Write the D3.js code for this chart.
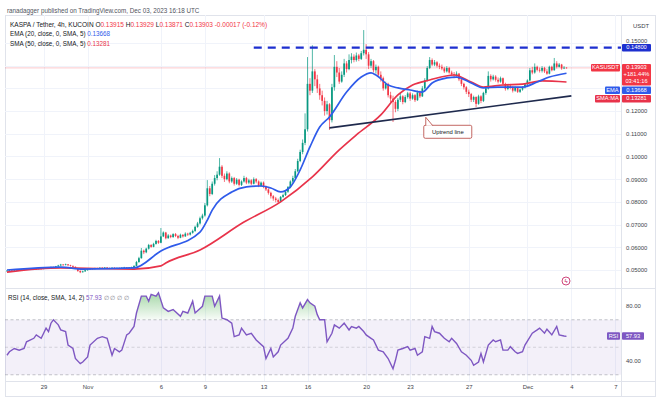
<!DOCTYPE html>
<html>
<head>
<meta charset="utf-8">
<script src="https://cdn.jsdelivr.net/npm/d3@7"></script>
<style>
  body { margin: 0; background: #fff; }
  svg { font-family: "Liberation Sans", Arial, sans-serif; }
</style>
</head>
<body>
<svg id="chart" width="660" height="399"></svg>
<script>
// KASPA / Tether 4h bars, first bar Oct 26 2023 12:00 UTC
const startBar = Date.UTC(2023, 9, 26, 12)
const barMs = 4 * 3600 * 1000
const firstOpen = 0.0495

const closes = [
  .0497,.0499,.0496,
  .0498,.0501,.0500,.0502,.0501,.0503,
  .0504,.0503,.0505,.0504,.0506,.0505,
  .0507,.0510,.0509,.0513,.0512,.0516,
  .0520,.0524,.0522,.0525,.0521,.0518,
  .0514,.0508,.0496,.0490,.0494,.0499,
  .0503,.0506,.0504,.0508,.0507,.0510,
  .0508,.0511,.0509,.0507,.0510,.0508,
  .0509,.0507,.0510,.0512,.0509,.0511,
  .0513,.0518,.0535,.0552,.0585,.0578,
  .0594,.0610,.0602,.0615,.0628,.0620,
  .0648,.0665,.0640,.0652,.0645,.0658,
  .0650,.0642,.0655,.0648,.0660,.0656,
  .0664,.0672,.0690,.0705,.0728,.0740,
  .0785,.0860,.0835,.0880,.0905,.0920,
  .0955,.0915,.0900,.0925,.0890,.0905,
  .0880,.0898,.0875,.0890,.0905,.0885,
  .0895,.0880,.0900,.0890,.0870,.0885,
  .0868,.0855,.0840,.0825,.0815,.0808,
  .0800,.0822,.0830,.0845,.0865,.0890,
  .0905,.0935,.0980,.1020,.1060,.1120,
  .1320,.1290,.1375,.1340,.1300,.1270,
  .1245,.1200,.1230,.1160,.1305,.1395,
  .1370,.1330,.1360,.1410,.1385,.1425,
  .1440,.1425,.1445,.1430,.1455,.1470,
  .1450,.1400,.1420,.1380,.1395,.1360,
  .1345,.1300,.1320,.1270,.1255,.1240,
  .1210,.1250,.1265,.1240,.1262,.1278,
  .1255,.1270,.1248,.1282,.1265,.1300,
  .1335,.1390,.1425,.1405,.1415,.1400,
  .1395,.1388,.1375,.1390,.1370,.1362,
  .1358,.1365,.1340,.1320,.1305,.1285,
  .1275,.1250,.1262,.1232,.1265,.1245,
  .1280,.1300,.1355,.1340,.1352,.1338,
  .1330,.1345,.1320,.1298,.1312,.1305,
  .1290,.1302,.1285,.1295,.1305,.1318,
  .1335,.1380,.1370,.1395,.1382,.1378,
  .1390,.1375,.1365,.1395,.1380,.1410,
  .1395,.1405,.1388,.13915,.13903
]
const highs = [
  .0499,.0501,.0500,
  .0500,.0503,.0503,.0504,.0504,.0505,
  .0506,.0506,.0507,.0507,.0508,.0508,
  .0509,.0512,.0512,.0515,.0515,.0518,
  .0523,.0527,.0526,.0528,.0526,.0523,
  .0520,.0516,.0510,.0498,.0497,.0501,
  .0505,.0508,.0508,.0510,.0510,.0512,
  .0513,.0513,.0513,.0511,.0512,.0512,
  .0511,.0511,.0512,.0514,.0513,.0513,
  .0515,.0521,.0540,.0558,.0597,.0590,
  .0598,.0615,.0614,.0620,.0633,.0632,
  .0685,.0670,.0668,.0658,.0656,.0662,
  .0663,.0655,.0660,.0658,.0666,.0664,
  .0668,.0678,.0695,.0712,.0735,.0748,
  .0795,.0896,.0870,.0890,.0918,.0935,
  .0993,.0962,.0925,.0935,.0930,.0912,
  .0910,.0905,.0902,.0895,.0915,.0910,
  .0902,.0900,.0908,.0905,.0895,.0890,
  .0890,.0872,.0860,.0845,.0830,.0822,
  .0815,.0826,.0836,.0850,.0870,.0895,
  .0915,.0945,.0990,.1030,.1075,.1190,
  .1438,.1345,.1490,.1385,.1360,.1320,
  .1290,.1260,.1245,.1235,.1320,.1447,
  .1420,.1390,.1375,.1430,.1420,.1450,
  .1455,.1450,.1458,.1452,.1465,.1557,
  .1495,.1460,.1430,.1425,.1405,.1400,
  .1375,.1352,.1330,.1325,.1285,.1268,
  .1248,.1258,.1280,.1270,.1270,.1285,
  .1285,.1278,.1275,.1290,.1290,.1310,
  .1345,.1398,.1438,.1432,.1425,.1420,
  .1410,.1405,.1395,.1398,.1395,.1378,
  .1372,.1375,.1368,.1345,.1325,.1310,
  .1295,.1280,.1268,.1265,.1272,.1270,
  .1285,.1310,.1375,.1362,.1360,.1358,
  .1348,.1352,.1348,.1325,.1318,.1320,
  .1310,.1308,.1305,.1300,.1310,.1322,
  .1340,.1390,.1395,.1410,.1400,.1392,
  .1398,.1395,.1385,.1400,.1400,.1434,
  .1420,.1412,.1408,.1398,.13929
]
const lows = [
  .0493,.0495,.0494,
  .0494,.0497,.0498,.0499,.0499,.0500,
  .0501,.0501,.0502,.0502,.0503,.0503,
  .0503,.0505,.0507,.0508,.0510,.0510,
  .0514,.0518,.0519,.0520,.0518,.0515,
  .0511,.0504,.0492,.0486,.0489,.0492,
  .0497,.0501,.0502,.0503,.0505,.0505,
  .0506,.0506,.0507,.0504,.0505,.0506,
  .0505,.0505,.0506,.0508,.0507,.0507,
  .0509,.0511,.0517,.0532,.0550,.0570,
  .0574,.0590,.0598,.0600,.0612,.0615,
  .0618,.0645,.0635,.0638,.0640,.0642,
  .0645,.0636,.0640,.0643,.0646,.0650,
  .0652,.0660,.0668,.0686,.0700,.0722,
  .0735,.0780,.0825,.0830,.0872,.0895,
  .0915,.0905,.0888,.0895,.0882,.0884,
  .0872,.0875,.0868,.0870,.0885,.0878,
  .0878,.0874,.0877,.0882,.0865,.0866,
  .0860,.0848,.0832,.0815,.0805,.0798,
  .0795,.0798,.0818,.0826,.0840,.0860,
  .0880,.0898,.0930,.0975,.1010,.1050,
  .1110,.1270,.1280,.1310,.1280,.1250,
  .1225,.1180,.1185,.1117,.1150,.1290,
  .1350,.1320,.1325,.1350,.1370,.1380,
  .1410,.1415,.1418,.1420,.1425,.1445,
  .1430,.1385,.1390,.1370,.1365,.1350,
  .1330,.1290,.1295,.1260,.1238,.1152,
  .1195,.1200,.1240,.1230,.1235,.1255,
  .1245,.1250,.1240,.1245,.1258,.1262,
  .1295,.1330,.1385,.1398,.1398,.1392,
  .1385,.1380,.1368,.1370,.1365,.1355,
  .1345,.1352,.1332,.1310,.1295,.1275,
  .1262,.1240,.1240,.1218,.1228,.1235,
  .1240,.1272,.1295,.1330,.1335,.1330,
  .1322,.1325,.1312,.1290,.1292,.1296,
  .1282,.1285,.1280,.1280,.1290,.1300,
  .1312,.1330,.1362,.1365,.1375,.1370,
  .1370,.1368,.1360,.1362,.1375,.1378,
  .1388,.1392,.1382,.1385,.13871
]

// moving averages: [bar number, value]
const ema20 = [[0,.0500],[22,.0513],[31,.0504],[52,.0509],[63,.0584],[79,.0667],[82,.0720],[84,.0764],
  [92,.0844],[98,.0866],[104,.0870],[108,.0861],[112,.0844],[116,.0866],[120,.0941],[124,.1042],
  [128,.1130],[132,.1174],[139,.1284],[145,.1350],[149,.1368],[151,.1359],[156,.1315],[160,.1302],
  [165,.1293],[170,.1284],[174,.1324],[180,.1346],[184,.1350],[190,.1324],[195,.1302],[201,.1306],
  [206,.1306],[211,.1306],[217,.1328],[222,.1350],[229,.13668]]
const sma50 = [[0,.0491],[22,.0509],[52,.0504],[63,.0518],[65,.0531],[79,.0588],[97,.0711],[112,.0800],
  [125,.0910],[136,.1029],[143,.1095],[153,.1183],[160,.1271],[166,.1315],[173,.1337],[183,.1359],
  [190,.1328],[195,.1306],[203,.1315],[211,.1319],[219,.1333],[229,.13281]]

// RSI(14): [bar number, value]
const rsi = [[0,44.2],[1,46.7],[3,49.1],[5,47.9],[7,49.1],[8,54.0],[11,56.5],[12,59.0],[14,56.5],[15,60.2],
  [16,63.9],[17,61.4],[18,67.5],[19,70.0],[21,66.3],[22,62.6],[24,61.4],[25,51.6],[27,49.1],[28,41.8],
  [30,38.1],[31,39.3],[33,43.0],[34,51.6],[37,56.5],[39,57.7],[41,56.5],[43,44.2],[44,49.1],[46,46.7],
  [47,47.9],[49,59.0],[50,60.2],[52,65.1],[53,74.9],[55,87.2],[57,87.2],[58,83.5],[59,88.4],[61,87.2],
  [62,89.6],[64,78.6],[66,76.1],[68,77.4],[71,72.5],[72,76.1],[74,74.9],[76,83.5],[77,74.9],[80,79.8],
  [81,87.2],[84,87.2],[85,79.8],[87,87.2],[88,71.2],[90,70.0],[92,67.5],[93,57.7],[95,59.0],[96,63.9],
  [98,59.0],[100,60.2],[102,55.3],[105,50.4],[106,41.8],[108,49.1],[109,43.0],[111,46.7],[112,51.6],
  [115,56.5],[117,63.9],[118,72.5],[120,82.3],[121,78.6],[123,84.7],[124,82.3],[126,79.8],[127,73.7],
  [128,70.0],[130,70.0],[131,54.0],[133,60.2],[134,66.3],[136,63.9],[138,67.5],[140,62.6],[141,65.1],
  [143,63.9],[144,65.1],[146,61.4],[147,59.0],[149,56.5],[150,55.3],[152,47.9],[154,46.7],[156,41.8],
  [158,34.4],[159,40.5],[160,47.9],[162,49.1],[164,50.4],[165,47.9],[167,49.1],[168,44.2],[170,46.7],
  [171,57.7],[173,56.5],[174,65.1],[175,61.4],[177,60.2],[179,56.5],[181,54.0],[182,56.5],[184,52.8],
  [186,46.7],[188,44.2],[190,40.5],[191,36.9],[193,39.3],[194,45.5],[195,39.3],[197,51.6],[199,55.3],
  [200,54.0],[202,55.3],[203,47.9],[205,47.9],[206,50.4],[208,46.7],[209,45.5],[211,46.7],[212,51.6],
  [215,60.2],[217,62.6],[218,63.9],[220,60.2],[221,63.1],[223,59.0],[225,65.1],[226,59.0],[228,58.2],[229,57.93]]

const priceTicks = [0.05, 0.06, 0.07, 0.08, 0.09, 0.10, 0.11, 0.12, 0.13, 0.14, 0.15]
const rsiTicks = [40, 80]
const dateTicks = [[2023,9,29,"29"],[2023,10,1,"Nov"],[2023,10,6,"6"],[2023,10,9,"9"],[2023,10,13,"13"],
  [2023,10,16,"16"],[2023,10,20,"20"],[2023,10,23,"23"],[2023,10,27,"27"],[2023,11,1,"Dec"],[2023,11,4,"4"],[2023,11,7,"7"]]

const resistance = 0.148
const resistanceFrom = Date.UTC(2023, 10, 12, 8)
const uptrend = [[Date.UTC(2023, 10, 17, 12), 0.1126], [Date.UTC(2023, 11, 4, 0), 0.1267]]

const last = { o: 0.13915, h: 0.13929, l: 0.13871, c: 0.13903, chg: "-0.00017 (-0.12%)", pct: "+181.44%", timer: "03:41:16" }
const emaLast = 0.13668, smaLast = 0.13281, rsiLast = 57.93

const upColor = "#089981", downColor = "#f23645"
const emaColor = "#2f5bea", smaColor = "#e8334a", rsiColor = "#7e57c2", resColor = "#1d2fcf"

// layout
const plotL = 5, plotR = 621, axisR = 655
const mainTop = 15, mainBot = 288, rsiBot = 381, frameBot = 396

const svg = d3.select("#chart")
const barTime = i => new Date(startBar + i * barMs)

const x = d3.scaleUtc()
  .domain([Date.UTC(2023, 10, 1), Date.UTC(2023, 11, 1)])
  .range([87.6, 527.4])
const y = d3.scaleLinear().domain([0.05, 0.15]).range([270, 43])
const yr = d3.scaleLinear().domain([40, 80]).range([361, 306])

const defs = svg.append("defs")
defs.append("clipPath").attr("id", "clipMain").append("rect")
  .attr("x", plotL).attr("y", mainTop).attr("width", plotR - plotL).attr("height", mainBot - mainTop)
defs.append("clipPath").attr("id", "clipRsi").append("rect")
  .attr("x", plotL).attr("y", mainBot).attr("width", plotR - plotL).attr("height", rsiBot - mainBot)
const grad = defs.append("linearGradient").attr("id", "obGrad")
  .attr("gradientUnits", "userSpaceOnUse").attr("x1", 0).attr("x2", 0)
  .attr("y1", yr(92)).attr("y2", yr(70))
grad.append("stop").attr("offset", 0).attr("stop-color", "#4caf50").attr("stop-opacity", 0.55)
grad.append("stop").attr("offset", 1).attr("stop-color", "#4caf50").attr("stop-opacity", 0.04)

// header
svg.append("text").attr("x", 7).attr("y", 13).attr("font-size", 6.3).attr("fill", "#50535e")
  .text("ranadagger published on TradingView.com, Dec 03, 2023 16:18 UTC")

// frame and separators
svg.append("rect").attr("x", plotL + 0.5).attr("y", mainTop + 0.5)
  .attr("width", axisR - plotL).attr("height", frameBot - mainTop)
  .attr("fill", "none").attr("stroke", "#e0e3eb")

// grid
const grid = svg.append("g").attr("stroke", "#f0f3fa").attr("stroke-width", 1)
dateTicks.forEach(d => {
  const gx = Math.round(x(Date.UTC(d[0], d[1], d[2]))) + 0.5
  grid.append("line").attr("x1", gx).attr("x2", gx).attr("y1", mainTop).attr("y2", rsiBot)
})
priceTicks.forEach(p => {
  const gy = Math.round(y(p)) + 0.5
  grid.append("line").attr("x1", plotL).attr("x2", plotR).attr("y1", gy).attr("y2", gy)
})

svg.append("line").attr("x1", plotR + 0.5).attr("x2", plotR + 0.5).attr("y1", mainTop).attr("y2", frameBot).attr("stroke", "#e0e3eb")
svg.append("line").attr("x1", plotL).attr("x2", axisR).attr("y1", mainBot + 0.5).attr("y2", mainBot + 0.5).attr("stroke", "#e0e3eb")
svg.append("line").attr("x1", plotL).attr("x2", axisR).attr("y1", rsiBot + 0.5).attr("y2", rsiBot + 0.5).attr("stroke", "#e0e3eb")

// price axis
const yAxis = svg.append("g").attr("transform", `translate(${plotR},0)`)
  .call(d3.axisRight(y).tickValues(priceTicks).tickFormat(d3.format(".5f")).tickSize(0).tickPadding(5))
yAxis.select(".domain").remove()
yAxis.selectAll("text").attr("font-size", 5.9).attr("fill", "#3c3f4a").attr("font-family", "Liberation Sans, Arial")
// top label sits just above the resistance tag
yAxis.selectAll(".tick").filter(d => d === 0.15).select("text").attr("dy", "-0.15em")
svg.append("text").attr("x", 633).attr("y", 28).attr("font-size", 5.9).attr("fill", "#3c3f4a").text("USDT")

// rsi axis
const rAxis = svg.append("g").attr("transform", `translate(${plotR},0)`)
  .call(d3.axisRight(yr).tickValues(rsiTicks).tickFormat(d3.format(".2f")).tickSize(0).tickPadding(5))
rAxis.select(".domain").remove()
rAxis.selectAll("text").attr("font-size", 5.9).attr("fill", "#3c3f4a").attr("font-family", "Liberation Sans, Arial")

// time axis
const xAxis = svg.append("g").attr("transform", `translate(0,${rsiBot})`)
  .call(d3.axisBottom(x).tickValues(dateTicks.map(d => new Date(Date.UTC(d[0], d[1], d[2]))))
    .tickFormat((d, i) => dateTicks[i][3]).tickSize(0).tickPadding(4))
xAxis.select(".domain").remove()
xAxis.selectAll("text").attr("font-size", 5.9).attr("fill", "#3c3f4a").attr("font-family", "Liberation Sans, Arial")

// main pane
const main = svg.append("g").attr("clip-path", "url(#clipMain)")

// last price line
main.append("line").attr("x1", plotL).attr("x2", plotR)
  .attr("y1", y(last.c)).attr("y2", y(last.c))
  .attr("stroke", downColor).attr("stroke-opacity", 0.35).attr("stroke-width", 0.8)

// candles
const bars = closes.map((c, i) => ({ t: barTime(i), o: i ? closes[i - 1] : firstOpen, h: highs[i], l: lows[i], c }))
const candle = main.append("g").selectAll("g").data(bars).enter().append("g")
candle.append("line")
  .attr("x1", d => x(d.t)).attr("x2", d => x(d.t))
  .attr("y1", d => y(Math.max(d.h, d.o, d.c))).attr("y2", d => y(Math.min(d.l, d.o, d.c)))
  .attr("stroke", d => d.c >= d.o ? upColor : downColor).attr("stroke-width", 0.7)
candle.append("rect")
  .attr("x", d => x(d.t) - 0.85).attr("width", 1.7)
  .attr("y", d => y(Math.max(d.o, d.c)))
  .attr("height", d => Math.max(0.6, Math.abs(y(d.o) - y(d.c))))
  .attr("fill", d => d.c >= d.o ? upColor : downColor)

// moving averages
const maLine = d3.line().x(d => x(barTime(d[0]))).y(d => y(d[1])).curve(d3.curveMonotoneX)
main.append("path").datum(sma50).attr("d", maLine).attr("fill", "none").attr("stroke", smaColor).attr("stroke-width", 1.7)
main.append("path").datum(ema20).attr("d", maLine).attr("fill", "none").attr("stroke", emaColor).attr("stroke-width", 1.7)

// resistance
main.append("line").attr("x1", x(resistanceFrom)).attr("x2", plotR)
  .attr("y1", y(resistance)).attr("y2", y(resistance))
  .attr("stroke", resColor).attr("stroke-width", 2.2).attr("stroke-dasharray", "8,6")

// uptrend line + note
main.append("line")
  .attr("x1", x(uptrend[0][0])).attr("y1", y(uptrend[0][1]))
  .attr("x2", x(uptrend[1][0])).attr("y2", y(uptrend[1][1]))
  .attr("stroke", "#1f2a4d").attr("stroke-width", 1.6)
const noteT = Date.UTC(2023, 10, 24)
const tl = d3.scaleLinear().domain([uptrend[0][0], uptrend[1][0]]).range([uptrend[0][1], uptrend[1][1]])
const nx = x(noteT), ny = y(tl(noteT))
const note = svg.append("g")
note.append("rect").attr("x", nx - 1).attr("y", ny + 10).attr("width", 48).attr("height", 13).attr("rx", 1.5)
  .attr("fill", "#fff").attr("stroke", "#b4413c").attr("stroke-width", 0.8)
note.append("path").attr("d", `M${nx + 1},${ny + 10.4} L${nx + 1},${ny + 2} L${nx + 8},${ny + 10.4}`)
  .attr("fill", "#fff").attr("stroke", "#b4413c").attr("stroke-width", 0.8)
note.append("text").attr("x", nx + 23).attr("y", ny + 18.8).attr("text-anchor", "middle")
  .attr("font-size", 5.9).attr("fill", "#131722").text("Uptrend line")

// rsi pane
const rsiG = svg.append("g").attr("clip-path", "url(#clipRsi)")
rsiG.append("rect").attr("x", plotL).attr("width", plotR - plotL)
  .attr("y", yr(70)).attr("height", yr(30) - yr(70)).attr("fill", rsiColor).attr("fill-opacity", 0.09)
;[70, 50, 30].forEach(v => {
  rsiG.append("line").attr("x1", plotL).attr("x2", plotR).attr("y1", yr(v)).attr("y2", yr(v))
    .attr("stroke", "#9598a1").attr("stroke-opacity", v === 50 ? 0.5 : 0.8)
    .attr("stroke-width", 0.7).attr("stroke-dasharray", "3,2.5")
})
rsiG.append("path").datum(rsi)
  .attr("d", d3.area().x(d => x(barTime(d[0]))).y0(yr(70)).y1(d => yr(Math.max(70, d[1]))))
  .attr("fill", "url(#obGrad)")
rsiG.append("path").datum(rsi)
  .attr("d", d3.line().x(d => x(barTime(d[0]))).y(d => yr(d[1])))
  .attr("fill", "none").attr("stroke", rsiColor).attr("stroke-width", 1.4)

// legends
const leg = svg.append("text").attr("x", 10).attr("y", 26.5).attr("font-size", 6.5).attr("fill", "#131722")
leg.append("tspan").text("KASPA / Tether, 4h, KUCOIN  O")
leg.append("tspan").attr("fill", downColor).text(last.o.toFixed(5))
leg.append("tspan").text(" H")
leg.append("tspan").attr("fill", downColor).text(last.h.toFixed(5))
leg.append("tspan").text(" L")
leg.append("tspan").attr("fill", downColor).text(last.l.toFixed(5))
leg.append("tspan").text(" C")
leg.append("tspan").attr("fill", downColor).text(last.c.toFixed(5) + " " + last.chg)
const legE = svg.append("text").attr("x", 10).attr("y", 36).attr("font-size", 6.3).attr("fill", "#131722")
legE.append("tspan").text("EMA (20, close, 0, SMA, 5) ")
legE.append("tspan").attr("fill", emaColor).text(emaLast.toFixed(5))
const legS = svg.append("text").attr("x", 10).attr("y", 45.5).attr("font-size", 6.3).attr("fill", "#131722")
legS.append("tspan").text("SMA (50, close, 0, SMA, 5) ")
legS.append("tspan").attr("fill", smaColor).text(smaLast.toFixed(5))
const legR = svg.append("text").attr("x", 8).attr("y", 300).attr("font-size", 6.3).attr("fill", "#131722")
legR.append("tspan").text("RSI (14, close, SMA, 14, 2) ")
legR.append("tspan").attr("fill", rsiColor).text(rsiLast.toFixed(2))
legR.append("tspan").attr("fill", "#787b86").text("  \u2205  \u2205  \u2205  \u2205")

// axis price tags
function tag(xl, yt, w, h, fill, lines) {
  const g = svg.append("g")
  g.append("rect").attr("x", xl).attr("y", yt).attr("width", w).attr("height", h).attr("rx", 1).attr("fill", fill)
  lines.forEach((t, k) => g.append("text").attr("x", xl + w / 2).attr("y", yt + 5.4 + k * 7)
    .attr("text-anchor", "middle").attr("font-size", 5.7).attr("fill", "#fff").text(t))
}
const boxX = plotR + 1, boxW = 29
tag(boxX, y(resistance) - 3.5, boxW, 7.5, resColor, [resistance.toFixed(5)])
const lastTop = y(last.c) - 4
tag(boxX, lastTop, boxW, 21.5, downColor, [last.c.toFixed(5), last.pct, last.timer])
tag(591, lastTop, 29, 7.5, downColor, ["KASUSDT"])
tag(boxX, lastTop + 22.5, boxW, 7.5, emaColor, [emaLast.toFixed(5)])
tag(605, lastTop + 22.5, 15, 7.5, emaColor, ["EMA"])
tag(boxX, lastTop + 31, boxW, 7.5, smaColor, [smaLast.toFixed(5)])
tag(595, lastTop + 31, 25, 7.5, smaColor, ["SMA:MA"])
tag(boxX, yr(rsiLast) - 4, 22, 7.5, rsiColor, [rsiLast.toFixed(2)])
tag(607, yr(rsiLast) - 4, 13, 7.5, rsiColor, ["RSI"])

// small event icon
svg.append("circle").attr("cx", 566).attr("cy", 281).attr("r", 4).attr("fill", "#fff")
  .attr("stroke", "#c2185b").attr("stroke-width", 0.8)
svg.append("text").attr("x", 566).attr("y", 283.3).attr("text-anchor", "middle").attr("font-size", 6)
  .attr("fill", "#c2185b").text("\u03DF")
</script>
</body>
</html>
